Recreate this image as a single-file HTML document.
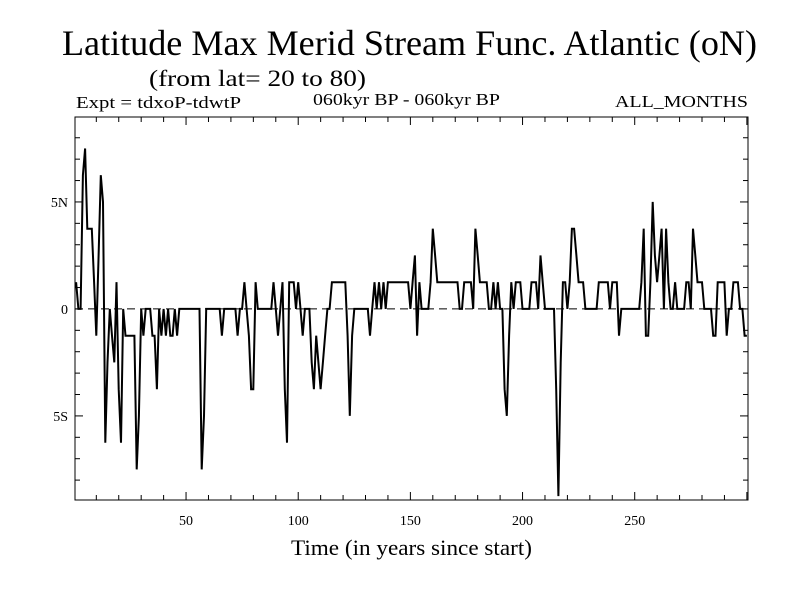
<!DOCTYPE html>
<html><head><meta charset="utf-8"><style>
body{margin:0;background:#fff;}
svg{display:block;font-family:"Liberation Serif",serif;}
</style></head><body>
<svg id="chart" width="800" height="600">
<text x="62" y="55" font-size="36" textLength="695" lengthAdjust="spacingAndGlyphs">Latitude Max Merid Stream Func. Atlantic (oN)</text>
<text x="149" y="86" font-size="23" textLength="217" lengthAdjust="spacingAndGlyphs">(from lat= 20 to 80)</text>
<text x="76" y="108" font-size="17" textLength="165" lengthAdjust="spacingAndGlyphs">Expt = tdxoP-tdwtP</text>
<text x="313" y="105" font-size="17" textLength="187" lengthAdjust="spacingAndGlyphs">060kyr BP - 060kyr BP</text>
<text x="615" y="107" font-size="17" textLength="133" lengthAdjust="spacingAndGlyphs">ALL_MONTHS</text>
<text x="291" y="555" font-size="22" textLength="241" lengthAdjust="spacingAndGlyphs">Time (in years since start)</text>
<g id="plot"></g>
</svg>
<script>
const values = [
1.25,0,0,6.25,7.5,3.75,3.75,3.75,1.25,-1.25,
2.5,6.25,5,-6.25,-2.5,0,-1.25,-2.5,1.25,-3.75,
-6.25,0,-1.25,-1.25,-1.25,-1.25,-1.25,-7.5,-5,0,
-1.25,0,0,0,-1.25,-1.25,-3.75,0,-1.25,0,
-1.25,0,-1.25,-1.25,0,-1.25,0,0,0,0,
0,0,0,0,0,0,-7.5,-5,0,0,
0,0,0,0,0,-1.25,0,0,0,0,
0,0,-1.25,0,0,1.25,0,-1.25,-3.75,-3.75,
1.25,0,0,0,0,0,0,0,1.25,0,
-1.25,0,1.25,-3.75,-6.25,1.25,1.25,1.25,0,1.25,
0,-1.25,0,0,0,-2.5,-3.75,-1.25,-2.5,-3.75,
-2.5,-1.25,0,0,1.25,1.25,1.25,1.25,1.25,1.25,
1.25,-1.25,-5,-1.25,0,0,0,0,0,0,
0,-1.25,0,1.25,0,1.25,0,1.25,0,1.25,
1.25,1.25,1.25,1.25,1.25,1.25,1.25,1.25,1.25,0,
1.25,2.5,-1.25,1.25,0,0,0,0,1.25,3.75,
2.5,1.25,1.25,1.25,1.25,1.25,1.25,1.25,1.25,1.25,
1.25,0,0,1.25,1.25,1.25,1.25,0,3.75,2.5,
1.25,1.25,1.25,1.25,0,0,1.25,0,1.25,0,
0,-3.75,-5,-1.25,1.25,0,1.25,1.25,1.25,0,
0,0,0,1.25,1.25,1.25,0,2.5,1.25,0,
0,0,0,0,-3.75,-8.75,-2.5,1.25,1.25,0,
1.25,3.75,3.75,2.5,1.25,1.25,1.25,0,0,0,
0,0,0,1.25,1.25,1.25,1.25,1.25,0,1.25,
1.25,1.25,-1.25,0,0,0,0,0,0,0,
0,0,1.25,3.75,-1.25,-1.25,1.25,5,2.5,1.25,
2.5,3.75,0,3.75,1.25,0,0,1.25,0,0,
0,0,1.25,1.25,0,3.75,2.5,1.25,1.25,1.25,
0,0,0,0,-1.25,-1.25,1.25,1.25,1.25,1.25,
-1.25,0,0,1.25,1.25,1.25,0,0,-1.25,-1.25];
const xLabels = [50,100,150,200,250];
const yLabelVals = [5,0,-5];
const yLabelText = ["5N","0","5S"];

const L=75,R=748,T=117,B=500, X0=0.5,X1=300.5, Y0=-8.93,Y1=8.97;
const xs=v=>L+(v-X0)/(X1-X0)*(R-L);
const ys=v=>B-(v-Y0)/(Y1-Y0)*(B-T);
const NS="http://www.w3.org/2000/svg";
const g=document.getElementById('plot');
function mk(tag,attrs){const e=document.createElementNS(NS,tag);for(const k in attrs)e.setAttribute(k,attrs[k]);g.appendChild(e);return e;}

const frame=mk('rect',{x:L,y:T,width:R-L,height:B-T,fill:'none',stroke:'#000','stroke-width':1});



const zl=mk('line',{x1:L,x2:R,y1:ys(0),y2:ys(0),stroke:'#000','stroke-dasharray':'8,5','stroke-width':1});



for(let t=10;t<=300;t+=10){
  const x=xs(t), len=(t%50===0)?8:5;
  const a=mk('line',{x1:x,x2:x,y1:B,y2:B-len,stroke:'#000'});
  
  
  const b=mk('line',{x1:x,x2:x,y1:T,y2:T+len,stroke:'#000'});
  
  
}
xLabels.forEach(v=>{
  const t=mk('text',{x:xs(v),y:525,'font-size':14,'text-anchor':'middle'});
  t.textContent=v;
  
  
});
for(let v=-8;v<=8;v++){
  const y=ys(v), len=(v%5===0)?8:5;
  const a=mk('line',{x1:L,x2:L+len,y1:y,y2:y,stroke:'#000'});
  
  
  const b=mk('line',{x1:R,x2:R-len,y1:y,y2:y,stroke:'#000'});
  
  
}
yLabelVals.forEach((v,i)=>{
  const t=mk('text',{x:68,y:ys(v)+5,'font-size':14,'text-anchor':'end'});
  t.textContent=yLabelText[i];
  
  
});
const pts=values.map((v,i)=>xs(i+1).toFixed(1)+','+ys(v).toFixed(1)).join(' ');
const line=mk('polyline',{points:pts,fill:'none',stroke:'#000','stroke-width':2,'stroke-linejoin':'miter'});


</script>
</body></html>
